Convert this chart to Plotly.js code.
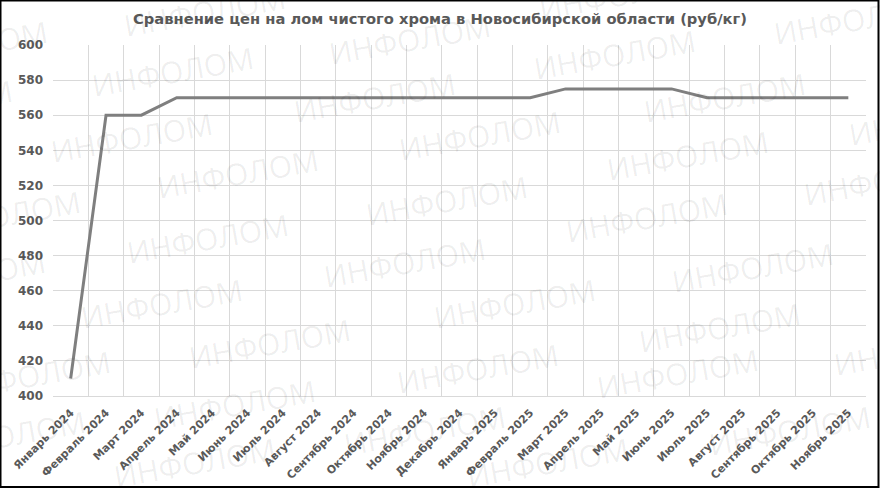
<!DOCTYPE html>
<html>
<head>
<meta charset="utf-8">
<script src="https://cdn.plot.ly/plotly-3.0.1.min.js"></script>
<style>
html,body{margin:0;padding:0;background:#fff;}
#chart{width:880px;height:488px;}
</style>
</head>
<body>
<div id="chart"></div>
<script>
// ---- data ----
const months = [
  "Январь 2024","Февраль 2024","Март 2024","Апрель 2024","Май 2024","Июнь 2024",
  "Июль 2024","Август 2024","Сентябрь 2024","Октябрь 2024","Ноябрь 2024","Декабрь 2024",
  "Январь 2025","Февраль 2025","Март 2025","Апрель 2025","Май 2025","Июнь 2025",
  "Июль 2025","Август 2025","Сентябрь 2025","Октябрь 2025","Ноябрь 2025"
];
const prices = [410,560,560,570,570,570,570,570,570,570,570,570,570,570,575,575,575,575,570,570,570,570,570];
const yTicks = [400,420,440,460,480,500,520,540,560,580,600];
const titleText = "Сравнение цен на лом чистого хрома в Новосибирской области (руб/кг)";
const watermarkText = "ИНФОЛОМ";

// ---- layout geometry ----
const W = 880, H = 488;
const M = {l:53, r:14, t:45, b:92};
const PW = W - M.l - M.r, PH = H - M.t - M.b;
const px = x => (x - M.l) / PW;
const py = y => (H - M.b - y) / PH;

// watermark centres (pixel positions, decoration only)
const wm = [
  [205,12],[173,72],[132,137],[238,173],[208,238],[-33,45],[-68,105],[0,215],[-35,275],
  [30,375],[5,435],[162,303],[270,343],[235,405],[195,462],[375,97],[410,40],[620,-5],
  [480,135],[615,55],[725,97],[855,20],[688,155],[930,120],[447,200],[647,218],[885,180],
  [405,262],[515,303],[478,368],[753,267],[720,327],[678,373],[915,350],[790,430],
  [548,462],[425,430]
];
const annotations = wm.map(p => ({
  xref:'paper', yref:'paper', x:px(p[0]), y:py(p[1]),
  xanchor:'center', yanchor:'middle', showarrow:false,
  text:watermarkText, textangle:-10,
  font:{family:'Open Sans, sans-serif', size:30, color:'rgba(0,0,0,0.07)'}
}));

const trace = {
  x: months, y: prices, type:'scatter', mode:'lines',
  line:{color:'#7f7f7f', width:3}, hoverinfo:'x+y'
};

const FONT = 'DejaVu Sans, sans-serif';
const layout = {
  width:W, height:H,
  margin:{l:M.l, r:M.r, t:M.t, b:M.b, pad:0},
  paper_bgcolor:'#ffffff', plot_bgcolor:'#ffffff',
  showlegend:false,
  title:{text:'<b>'+titleText+'</b>', x:0.5, xref:'container', xanchor:'center', y:1-19/H, yanchor:'middle',
         font:{family:FONT, size:14.7, color:'#595959'}},
  xaxis:{
    type:'category', range:[-0.5, months.length-0.5],
    tickson:'boundaries', showgrid:true, gridcolor:'#d9d9d9', gridwidth:1,
    ticks:'', tickangle:-45, showline:true, linecolor:'#d9d9d9', linewidth:1,
    ticklabelstandoff:5,
    tickfont:{family:FONT, size:11, color:'#595959', weight:'bold'},
    zeroline:false, fixedrange:true
  },
  yaxis:{
    range:[400,600], tickvals:yTicks, ticktext:yTicks.map(String),
    showgrid:true, gridcolor:'#d9d9d9', gridwidth:1, zeroline:false,
    showline:false, ticks:'', ticklabelstandoff:9,
    tickfont:{family:FONT, size:12, color:'#595959', weight:'bold'},
    fixedrange:true
  },
  annotations: annotations,
  shapes:[{
    type:'rect', xref:'paper', yref:'paper',
    x0:px(0.5), x1:px(W-1.5), y0:py(H-1), y1:py(0.5),
    line:{color:'#000000', width:2}, fillcolor:'rgba(0,0,0,0)', layer:'above'
  }]
};

Plotly.newPlot('chart', [trace], layout, {displayModeBar:false, staticPlot:true});
</script>
</body>
</html>
